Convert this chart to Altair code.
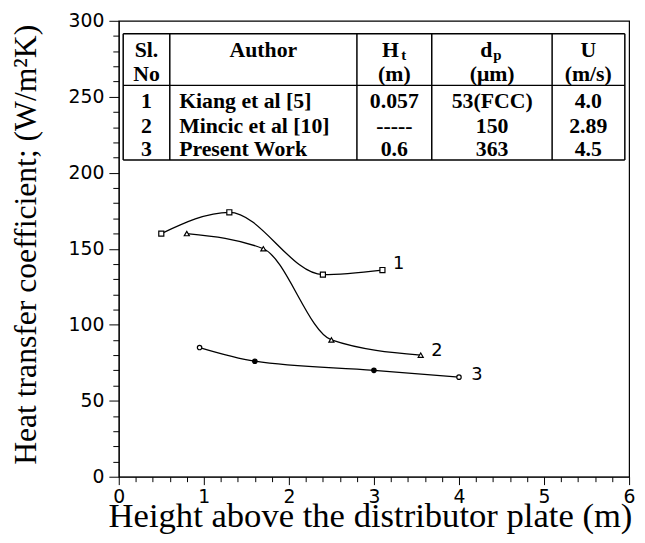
import altair as alt
import pandas as pd

# ---- curve data ----
s1_x = [0.5, 1.3, 2.4, 3.1]
s1_y = [160, 174, 133, 136]
s2_x = [0.8, 1.7, 2.5, 3.55]
s2_y = [160, 150, 90, 80]
s3_x = [0.95, 1.6, 3.0, 4.0]
s3_y = [85, 76, 70, 65.5]
s3_filled = [False, True, True, False]

curve_labels = ["1", "2", "3"]
curve_label_x = [3.29, 3.74, 4.21]
curve_label_y = [140, 82.5, 67]

# ---- axis ticks ----
x_ticks = [round(i * 0.2, 1) for i in range(31)]
y_ticks = list(range(0, 301, 10))

# ---- table contents ----
sl_no = ["1", "2", "3"]
authors = ["Kiang et al [5]", "Mincic et al [10]", "Present Work"]
ht_vals = ["0.057", "-----", "0.6"]
dp_vals = ["53(FCC)", "150", "363"]
u_vals = ["4.0", "2.89", "4.5"]

# ---- table layout (data units) ----
tab_cols = [0.052, 0.60, 2.80, 3.68, 5.095, 5.95]
tab_rows = [291.5, 257.5, 208.4]
col_centers = [0.326, 1.70, 3.24, 4.39, 5.52]
author_left = 0.71
header_y = [276.5, 260.2]
row_y = [242.4, 226.2, 211]

xs = alt.Scale(domain=[0, 6], nice=False, zero=False)
ys = alt.Scale(domain=[0, 300], nice=False, zero=False)

tick_font = "DejaVu Sans"
is_int = "abs(datum.value - round(datum.value)) < 0.001"
x_axis = alt.Axis(
    values=x_ticks,
    labelExpr=f"{is_int} ? toString(round(datum.value)) : ''",
    tickSize={"condition": {"test": is_int, "value": 8}, "value": 5},
    title="Height above the distributor plate (m)",
    titleFont="Liberation Serif", titleFontSize=35, titleFontWeight="normal",
    titleX=254, titleY=50, titleBaseline="alphabetic", titleAlign="center",
    labelFont=tick_font, labelFontSize=19, labelPadding=3,
    grid=False, domainColor="black", tickColor="black", labelColor="black",
    titleColor="black", labelFlush=False, labelOverlap=False,
)
y_axis = alt.Axis(
    values=y_ticks,
    labelExpr="datum.value % 50 === 0 ? toString(datum.value) : ''",
    tickSize={"condition": {"test": "datum.value % 50 === 0", "value": 10}, "value": 6},
    title="Heat transfer coefficient; (W/m²K)",
    titleFont="Liberation Serif", titleFontSize=32, titleFontWeight="normal",
    titleX=-84, titleY=226, titleBaseline="alphabetic", titleAlign="center",
    titleAngle=270,
    labelFont=tick_font, labelFontSize=19, labelPadding=5,
    grid=False, domainColor="black", tickColor="black", labelColor="black",
    titleColor="black", labelFlush=False, labelOverlap=False,
)

X = alt.X("x:Q", scale=xs, axis=x_axis)
Y = alt.Y("y:Q", scale=ys, axis=y_axis)

d1 = pd.DataFrame({"x": s1_x, "y": s1_y})
d2 = pd.DataFrame({"x": s2_x, "y": s2_y})
d3 = pd.DataFrame({"x": s3_x, "y": s3_y, "filled": s3_filled})

def line(df):
    return alt.Chart(df).mark_line(interpolate="monotone", color="black", strokeWidth=1.3).encode(
        x=X, y=Y)

l1 = line(d1)
l2 = line(d2)
l3 = line(d3)

p1 = alt.Chart(d1).mark_point(shape="square", filled=True, fill="white", stroke="black",
                              strokeWidth=1.2, size=26, opacity=1).encode(x=X, y=Y)
p2 = alt.Chart(d2).mark_point(shape="triangle-up", filled=True, fill="white", stroke="black",
                              strokeWidth=1.2, size=26, opacity=1).encode(x=X, y=Y)
p3 = alt.Chart(d3).mark_point(shape="circle", filled=True, stroke="black",
                              strokeWidth=1.2, size=20, opacity=1).encode(
    x=X, y=Y,
    fill=alt.condition(alt.datum.filled, alt.value("black"), alt.value("white")))

lab_df = pd.DataFrame({"x": curve_label_x, "y": curve_label_y, "t": curve_labels})
labs = alt.Chart(lab_df).mark_text(font=tick_font, fontSize=18, color="black",
                                   baseline="middle", align="center").encode(
    x=X, y=Y, text="t:N")

# table grid
h_df = pd.DataFrame({"x": [tab_cols[0]] * 3, "x2": [tab_cols[-1]] * 3, "y": tab_rows})
v_df = pd.DataFrame({"x": tab_cols, "y": [tab_rows[-1]] * len(tab_cols),
                     "y2": [tab_rows[0]] * len(tab_cols)})
hr = alt.Chart(h_df).mark_rule(color="black", strokeWidth=1.5).encode(
    x=X, x2="x2:Q", y=Y)
vr = alt.Chart(v_df).mark_rule(color="black", strokeWidth=1.5).encode(
    x=X, y=Y, y2="y2:Q")

# table texts (centered)
cx, cy, ct = [], [], []
for i in range(3):
    for c, vals in [(0, sl_no), (2, ht_vals), (3, dp_vals), (4, u_vals)]:
        cx.append(col_centers[c]); cy.append(row_y[i]); ct.append(vals[i])
hdr = [(0, 0, "Sl."), (0, 1, "No"), (1, 0, "Author"), (2, 1, "(m)"),
       (3, 1, "(\u03bcm)"), (4, 0, "U"), (4, 1, "(m/s)")]
for c, r, t in hdr:
    cx.append(col_centers[c]); cy.append(header_y[r]); ct.append(t)
ctext_df = pd.DataFrame({"x": cx, "y": cy, "t": ct})
tfont = dict(font="Liberation Serif", fontWeight="bold", fontSize=22, color="black",
             baseline="alphabetic")
ctext = alt.Chart(ctext_df).mark_text(align="center", **tfont).encode(
    x=X, y=Y, text="t:N")

atext_df = pd.DataFrame({"x": [author_left] * 3, "y": row_y, "t": authors})
atext = alt.Chart(atext_df).mark_text(align="left", **tfont).encode(
    x=X, y=Y, text="t:N")

# header symbols with subscripts
sym_df = pd.DataFrame({"x": [col_centers[2], col_centers[3]], "y": [header_y[0]] * 2,
                       "t": ["H", "d"]})
sub_df = pd.DataFrame({"x": [col_centers[2], col_centers[3]], "y": [header_y[0]] * 2,
                       "t": ["t", "p"]})
subfont = dict(font="Liberation Serif", fontWeight="bold", fontSize=15, color="black",
               baseline="alphabetic")
sym1 = alt.Chart(sym_df.iloc[[0]]).mark_text(align="center", dx=-4, **tfont).encode(
    x=X, y=Y, text="t:N")
sub1 = alt.Chart(sub_df.iloc[[0]]).mark_text(align="left", dx=7, dy=4, **subfont).encode(
    x=X, y=Y, text="t:N")
sym2 = alt.Chart(sym_df.iloc[[1]]).mark_text(align="center", dx=-6, **tfont).encode(
    x=X, y=Y, text="t:N")
sub2 = alt.Chart(sub_df.iloc[[1]]).mark_text(align="left", dx=1, dy=4, **subfont).encode(
    x=X, y=Y, text="t:N")

chart = alt.layer(l1, l2, l3, p1, p2, p3, labs, hr, vr, ctext, atext, sym1, sub1, sym2, sub2).properties(
    width=516, height=461,
    autosize=alt.AutoSizeParams(type="none"),
    padding={"left": 112, "top": 10, "right": 8, "bottom": 56},
    background="white",
).configure_view(stroke="black", strokeWidth=1.2)

chart.save("out.html", embed_options={"renderer": "svg", "actions": False})
